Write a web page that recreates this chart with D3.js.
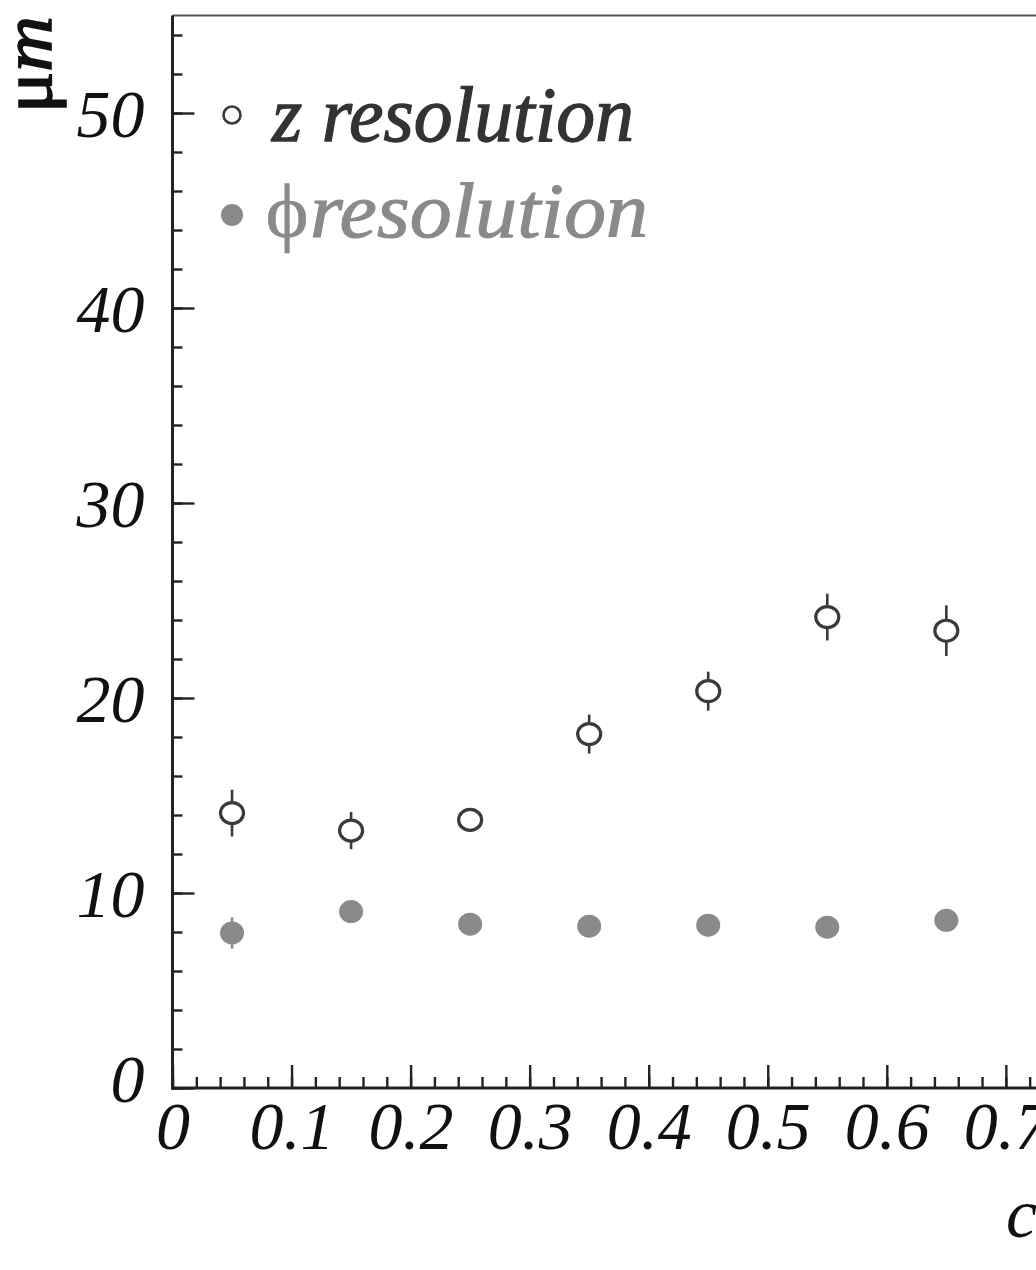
<!DOCTYPE html>
<html><head><meta charset="utf-8">
<script src="https://cdn.jsdelivr.net/npm/d3@7"></script>
<style>html,body{margin:0;padding:0;background:#fff;overflow:hidden}</style>
</head><body>
<svg id="c" width="1036" height="1270"></svg>
<script>
// data
const xBins   = [0.05, 0.15, 0.25, 0.35, 0.45, 0.55, 0.65];
const zRes    = [14.1, 13.2, 13.75, 18.15, 20.35, 24.15, 23.45];
const zErr    = [1.2, 0.95, 0.6, 1.0, 1.0, 1.2, 1.3];
const phiRes  = [7.95, 9.05, 8.4, 8.3, 8.35, 8.25, 8.6];
const phiErr  = [0.8, 0.3, 0.3, 0.3, 0.3, 0.3, 0.3];
const yTicks  = [0, 10, 20, 30, 40, 50];
const xTicks  = [0, 0.1, 0.2, 0.3, 0.4, 0.5, 0.6, 0.7];
const xTickLabels = ["0", "0.1", "0.2", "0.3", "0.4", "0.5", "0.6", "0.7"];
const legendLabels = ["z resolution", "resolution"];

const svg = d3.select("#c");
const x = d3.scaleLinear().domain([0, 1]).range([172.5, 1363]);
const y = d3.scaleLinear().domain([0, 55]).range([1088, 15.5]);
const serif = "'Liberation Serif','DejaVu Serif',serif";

// frame top line
svg.append("line").attr("x1", x(0)).attr("x2", 1100).attr("y1", y(55)).attr("y2", y(55))
  .attr("stroke", "#555").attr("stroke-width", 2.2);

// minor ticks
const yMinor = d3.axisLeft(y).tickValues(d3.range(0, 55.01, 2)).tickSize(-10).tickFormat("");
const gYm = svg.append("g").attr("transform", `translate(${x(0)},0)`).call(yMinor);
const xMinor = d3.axisBottom(x).tickValues(d3.range(0, 0.741, 0.02)).tickSize(-11).tickFormat("");
const gXm = svg.append("g").attr("transform", `translate(0,${y(0)})`).call(xMinor);

// major ticks
const yMajor = d3.axisLeft(y).tickValues(yTicks).tickSize(-22).tickPadding(28).tickFormat(d => d);
const gY = svg.append("g").attr("transform", `translate(${x(0)},0)`).call(yMajor);
const xMajor = d3.axisBottom(x).tickValues(xTicks).tickSize(-23).tickPadding(12)
  .tickFormat((d, i) => xTickLabels[i]);
const gX = svg.append("g").attr("transform", `translate(0,${y(0)})`).call(xMajor);

[gYm, gXm, gY, gX].forEach(g => {
  g.select(".domain").remove();
  g.selectAll(".tick line").attr("stroke", "#222").attr("stroke-width", 2.4);
});
gY.selectAll("text").attr("font-family", serif).attr("font-style", "italic")
  .attr("font-size", 68).attr("fill", "#111").attr("dy", "0.34em");
gY.selectAll(".tick").filter(d => d === 0).select("text").attr("dy", "0.2em");
gX.selectAll("text").attr("font-family", serif).attr("font-style", "italic")
  .attr("font-size", 68).attr("fill", "#111").attr("dy", "0.72em");

// axis lines
svg.append("line").attr("x1", x(0)).attr("x2", x(0)).attr("y1", y(55)).attr("y2", y(0) + 1.5)
  .attr("stroke", "#222").attr("stroke-width", 3);
svg.append("line").attr("x1", x(0) - 1.5).attr("x2", 1100).attr("y1", y(0)).attr("y2", y(0))
  .attr("stroke", "#222").attr("stroke-width", 3);

// phi points
const zCol = "#3a3a3a", pCol = "#8a8a8a";
const gp = svg.append("g");
xBins.forEach((xv, i) => {
  gp.append("line").attr("x1", x(xv)).attr("x2", x(xv))
    .attr("y1", y(phiRes[i] - phiErr[i])).attr("y2", y(phiRes[i] + phiErr[i]))
    .attr("stroke", pCol).attr("stroke-width", 2.5);
  gp.append("ellipse").attr("cx", x(xv)).attr("cy", y(phiRes[i]))
    .attr("rx", 12).attr("ry", 11.5).attr("fill", pCol);
});
// z points
const gz = svg.append("g");
xBins.forEach((xv, i) => {
  gz.append("line").attr("x1", x(xv)).attr("x2", x(xv))
    .attr("y1", y(zRes[i] - zErr[i])).attr("y2", y(zRes[i] + zErr[i]))
    .attr("stroke", zCol).attr("stroke-width", 2.6);
  gz.append("ellipse").attr("cx", x(xv)).attr("cy", y(zRes[i]))
    .attr("rx", 11.5).attr("ry", 10.5).attr("fill", "#fff")
    .attr("stroke", zCol).attr("stroke-width", 3.2);
});

// legend
svg.append("circle").attr("cx", 232).attr("cy", 115).attr("r", 8.5)
  .attr("fill", "#fff").attr("stroke", zCol).attr("stroke-width", 2.6);
svg.append("text").attr("x", 272).attr("y", 141).attr("font-family", serif)
  .attr("font-style", "italic").attr("font-size", 78)
  .attr("fill", "#333").attr("stroke", "#333").attr("stroke-width", 1.3)
  .attr("textLength", 362).attr("lengthAdjust", "spacingAndGlyphs")
  .text(legendLabels[0]);
svg.append("circle").attr("cx", 232).attr("cy", 215).attr("r", 11).attr("fill", pCol);
svg.append("text").attr("transform", "translate(287,237) scale(1.08,1)").attr("text-anchor", "middle")
  .attr("font-family", serif).attr("font-size", 76).attr("fill", pCol)
  .attr("stroke", pCol).attr("stroke-width", 0.5)
  .text("ϕ");
svg.append("text").attr("x", 310).attr("y", 237).attr("font-family", serif)
  .attr("font-style", "italic").attr("font-size", 78)
  .attr("fill", pCol).attr("stroke", pCol).attr("stroke-width", 1.1)
  .attr("textLength", 338).attr("lengthAdjust", "spacingAndGlyphs")
  .text(legendLabels[1]);

// axis titles
const yt = svg.append("text").attr("transform", "translate(51,113) rotate(-90)")
  .attr("font-family", serif).attr("font-size", 70).attr("fill", "#111")
  .attr("stroke", "#111").attr("stroke-width", 1.6)
  .attr("textLength", 97).attr("lengthAdjust", "spacingAndGlyphs");
yt.append("tspan").text("μ");
yt.append("tspan").attr("font-style", "italic").text("m");
svg.append("text").attr("x", 1006).attr("y", 1237).attr("font-family", serif)
  .attr("font-style", "italic").attr("font-size", 70).attr("fill", "#111").text("cosθ");
</script>
</body></html>
